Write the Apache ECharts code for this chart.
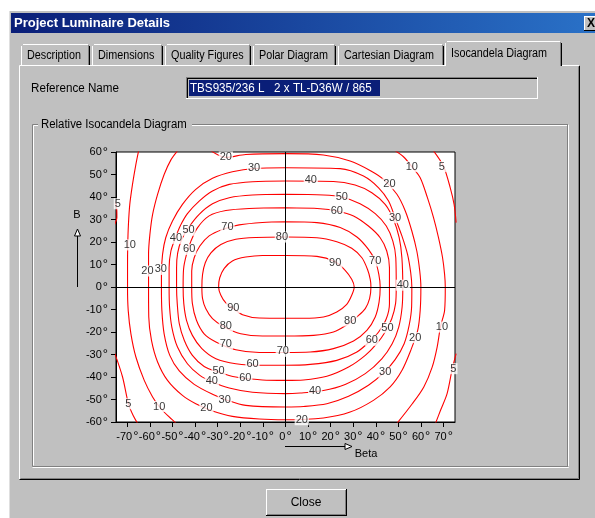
<!DOCTYPE html>
<html><head><meta charset="utf-8">
<script src="https://cdn.jsdelivr.net/npm/echarts@6/dist/echarts.min.js"></script>
<style>html,body{margin:0;padding:0;background:#fff}#c{width:595px;height:518px}</style>
</head><body><div id="c"></div>
<script>
// ---- axis ticks ----
const xTicks = [-70,-60,-50,-40,-30,-20,-10,0,10,20,30,40,50,60,70];
const yTicks = [-60,-50,-40,-30,-20,-10,0,10,20,30,40,50,60];

// ---- contour lines (beta, B); each level = list of segments ----
const iso90 = [[[0,14.0],[-10.2,14.0],[-17.6,13.3],[-23.5,11.6],[-27.1,8.3],[-29.1,4.1],[-29.6,0],
  [-28.6,-3.7],[-26.4,-7.1],[-23.0,-9.6],[-19.0,-12.3],[-11.6,-13.8],[0,-13.9],
  [8.0,-13.9],[16.8,-13.3],[22.7,-11.1],[27.1,-7.7],[29.3,-3.7],[30.4,0],
  [29.3,3.4],[26.4,7.4],[22.0,11.2],[13.9,13.6],[0,14.0]]];
const iso80 = [[[0,22.2],[-13.1,22.0],[-22.0,21.2],[-28.6,18.9],[-33.0,15.2],[-35.5,10.8],[-36.7,5.6],[-37.0,0],
  [-36.7,-5.2],[-35.3,-9.6],[-32.3,-14.1],[-27.1,-17.8],[-19.8,-20.8],[-10.2,-21.8],[0,-21.8],
  [12.4,-21.5],[21.2,-20.0],[27.9,-16.3],[31.6,-13.3],[35.3,-9.6],[37.2,-5.2],[37.8,0],
  [37.5,3.4],[36.3,7.8],[33.8,13.0],[29.3,17.2],[22.7,20.1],[13.9,21.9],[0,22.2]]];
const iso70 = [[[0,29.0],[-10.2,28.7],[-20.5,27.6],[-27.9,25.6],[-33.8,22.7],[-37.9,18.2],[-40.4,13.0],[-41.5,7.1],[-41.5,0],
  [-41.2,-7.4],[-39.4,-14.8],[-36.0,-20.8],[-30.8,-24.4],[-22.0,-27.9],[-11.6,-29.1],[0,-29.1],
  [10.9,-28.9],[21.2,-27.4],[30.1,-24.0],[36.0,-19.3],[39.7,-13.3],[41.4,-6.7],[41.9,0],
  [41.3,5.6],[39.7,11.6],[36.7,16.7],[31.6,22.2],[24.2,26.4],[13.9,28.6],[0,29.0]]];
const iso60 = [[[0,35.2],[-16.1,34.9],[-26.4,34.0],[-33.8,31.6],[-38.9,26.4],[-41.8,20.5],[-43.8,14.5],[-45.1,8.0],[-45.3,0],
  [-45.0,-7.4],[-43.8,-14.8],[-41.2,-21.5],[-37.0,-27.4],[-30.8,-31.9],[-22.0,-34.1],[-10.2,-34.8],[0,-34.8],
  [10.9,-34.4],[22.7,-32.6],[31.6,-28.9],[37.8,-23.7],[41.2,-20.0],[44.6,-14.1],[46.0,-7.4],[46.0,0],
  [46.0,8.6],[44.8,16.0],[41.9,21.9],[36.7,27.1],[30.1,31.6],[22.7,33.8],[15.3,34.8],[0,35.2]]];
const iso50 = [[[0,41.2],[-14.6,40.9],[-24.9,39.7],[-32.3,37.0],[-38.2,32.3],[-42.9,26.4],[-45.9,21.2],[-47.7,15.2],[-48.2,8.6],[-48.2,0],
  [-47.9,-7.4],[-47.0,-16.3],[-44.8,-23.7],[-41.2,-30.4],[-36.0,-35.3],[-29.6,-37.8],[-22.0,-40.0],[-10.2,-41.3],[0,-41.5],
  [8.0,-41.3],[18.3,-39.7],[27.9,-35.6],[35.3,-30.4],[40.4,-25.2],[44.1,-20.0],[47.0,-14.1],[48.7,-7.4],[49.0,0],
  [48.8,13.0],[47.5,20.4],[44.6,27.1],[39.7,32.6],[33.0,37.0],[24.9,40.0],[16.8,40.9],[0,41.2]]];
const iso40 = [[[0,47.1],[-14.6,46.8],[-24.9,45.6],[-32.3,42.7],[-38.2,38.2],[-43.4,32.6],[-46.8,26.7],[-48.8,21.6],[-50.7,16.0],[-51.5,8.6],[-51.5,0],
  [-51.3,-8.9],[-50.3,-17.8],[-47.8,-26.7],[-43.4,-34.1],[-37.9,-39.3],[-32.3,-42.2],[-24.9,-44.9],[-14.6,-46.8],[0,-47.4],
  [6.5,-47.1],[16.8,-46.0],[26.4,-43.3],[35.3,-38.5],[42.6,-31.9],[47.2,-25.2],[50.1,-17.8],[51.6,-8.9],[51.9,0],
  [51.5,13.0],[50.3,21.9],[47.8,30.0],[44.1,36.7],[38.2,41.9],[30.8,45.3],[21.2,46.9],[0,47.1]]];
const iso30 = [[[0,53.0],[-13.9,52.7],[-23.5,51.2],[-32.3,48.3],[-39.7,43.4],[-45.6,36.7],[-50.0,29.3],[-53.0,21.9],[-54.4,14.5],[-54.9,5.6],[-54.9,0],
  [-54.7,-10.4],[-53.7,-20.8],[-51.2,-30.4],[-47.0,-37.3],[-40.4,-43.3],[-32.3,-47.7],[-26.4,-50.1],[-17.6,-52.6],[0,-53.3],
  [8.0,-53.1],[18.3,-51.9],[27.9,-48.6],[36.7,-43.7],[43.4,-38.2],[48.5,-32.3],[52.5,-25.2],[54.7,-17.1],[55.8,-8.9],[55.9,0],
  [55.4,6.4],[54.0,14.5],[51.5,22.7],[48.5,30.8],[45.6,38.2],[41.2,44.1],[34.5,49.3],[24.2,52.6],[0,53.0]]];
const iso20 = [[[-47.8,60.5],[-50.7,56.5],[-53.7,50.0],[-56.6,41.2],[-58.8,32.3],[-60.0,23.4],[-60.6,14.5],[-60.6,0],
  [-60.5,-13.3],[-59.3,-23.7],[-56.6,-33.3],[-52.2,-41.5],[-45.6,-48.2],[-39.7,-51.9],[-32.3,-55.1],[-23.5,-57.5],[-11.6,-58.7],[0,-59.0],
  [16.8,-58.2],[28.6,-55.6],[38.9,-50.4],[46.3,-44.4],[51.5,-37.1],[55.4,-28.2],[58.5,-19.3],[59.6,-10.4],[59.9,0],
  [59.4,7.1],[58.1,16.0],[55.9,24.9],[53.0,33.8],[49.3,41.2],[43.4,47.8],[37.8,51.6],[28.6,56.0],[16.8,58.7],[0,59.3],
  [-17.6,58.9],[-26.4,57.6],[-30.0,58.8],[-33.0,60.5]]];
const iso10 = [
  [[-65.0,60.5],[-66.2,54.5],[-67.7,45.6],[-68.9,36.7],[-69.5,27.8],[-69.8,18.9],[-69.9,10.0],[-69.9,0],
   [-69.6,-10.4],[-68.4,-20.8],[-66.2,-31.1],[-62.5,-41.5],[-58.8,-48.9],[-55.9,-53.1],[-52.2,-57.1],[-48.5,-60.5]],
  [[48.5,60.5],[52.2,57.9],[55.9,53.5],[59.6,48.6],[62.8,39.7],[65.5,30.8],[67.7,21.9],[69.5,13.0],[70.4,5.6],[70.7,0],
   [70.4,-10.4],[68.6,-17.5],[67.1,-26.7],[64.9,-35.6],[61.2,-44.4],[56.1,-51.9],[49.4,-60.5]]];
const iso5 = [
  [[-76.0,39.0],[-74.7,35.0],[-74.6,31.0],[-76.0,27.0]],
  [[65.5,60.5],[69.9,53.7],[72.9,44.1],[74.6,36.7],[75.5,28.6]],
  [[75.5,-29.6],[73.8,-36.3],[71.5,-47.4],[68.6,-54.8],[66.4,-60.5]],
  [[-75.5,-29.6],[-72.1,-40.0],[-69.5,-51.9],[-67.4,-57.1],[-65.5,-60.5]]];

// ---- contour labels: [text, beta, B] ----
const isoLabels = [
  ['5',-74.2,37.0],['10',-68.9,18.7],['20',-61.1,7.1],['30',-55.2,7.8],['40',-48.5,21.6],['50',-42.9,25.2],
  ['60',-42.6,16.7],['70',-25.7,26.7],['80',-1.6,22.2],['20',-26.4,57.8],['30',-13.9,53.0],
  ['40',11.2,47.6],['50',24.9,40.0],['60',22.7,33.8],['20',46.0,45.9],['30',48.5,30.8],['10',55.9,53.5],
  ['5',69.2,53.5],['70',39.7,11.6],['90',22.0,10.8],['40',51.9,0.8],
  ['80',28.6,-15.1],['50',45.1,-18.1],['60',38.2,-23.7],['20',57.4,-22.5],['10',69.2,-17.8],['30',44.1,-37.8],
  ['40',13.1,-46.2],['20',7.2,-59.0],['5',74.3,-36.3],['70',-1.2,-28.6],
  ['90',-23.1,-9.2],['80',-26.4,-17.5],['70',-26.4,-25.5],['60',-14.6,-34.4],['50',-29.6,-37.5],['60',-17.8,-40.4],
  ['40',-32.6,-41.8],['30',-26.9,-50.1],['20',-35.0,-53.8],['10',-55.9,-53.1],['5',-69.5,-51.9]];

const tabNames = ['Description','Dimensions','Quality Figures','Polar Diagram','Cartesian Diagram','Isocandela Diagram'];
const titleText = 'Project Luminaire Details';
const refName = 'TBS935/236 L   2 x TL-D36W / 865';

// ---------------------------------------------------------------
const FONT = '"Liberation Sans", Arial, sans-serif';
const GRAY = '#c0c0c0', DARK = '#808080';
const G = [];
function rect(x,y,w,h,fill,z){G.push({type:'rect',silent:true,z:z??-10,shape:{x,y,width:w,height:h},style:{fill}});}
function ln(x1,y1,x2,y2,stroke,z){G.push({type:'line',silent:true,z:z??-9,shape:{x1,y1,x2,y2},style:{stroke,lineWidth:1}});}
function txt(x,y,text,o,sx){G.push({type:'text',silent:true,z:(o&&o.z)??-8,x,y,scaleX:sx??1,style:Object.assign({text,fill:'#000',fontSize:12,fontFamily:FONT,align:'left',verticalAlign:'middle'},o||{})});}

// window
rect(9,11,600,520,GRAY);
ln(9.5,11,9.5,518,'#dfdfdf');
// title bar
G.push({type:'rect',silent:true,z:-9,shape:{x:11,y:13,width:590,height:20},
  style:{fill:new echarts.graphic.LinearGradient(0,0,1,0,[{offset:0,color:'#0a1e78'},{offset:1,color:'#2a72c8'}])}});
txt(14,23.5,titleText,{fill:'#fff',fontWeight:'bold',fontSize:13});
rect(584,16,16,15,GRAY,-8);
ln(584.5,16,584.5,31,'#fff',-7);ln(584,16.5,600,16.5,'#fff',-7);ln(584,30.5,600,30.5,'#000',-7);
txt(587,23.5,'X',{fontWeight:'bold',fontSize:12,z:-6});

// panel
const PX0=19.5, PX1=579.5, PY0=65.5, PY1=479.5;
ln(PX0,PY0,PX0,PY1,'#fff');
ln(PX1,PY0,PX1,PY1,'#000');ln(PX1-1,PY0+1,PX1-1,PY1-1,DARK);
ln(PX0,PY1,PX1,PY1,'#000');ln(PX0+1,PY1-1,PX1-1,PY1-1,DARK);
// tabs
const tabX = [20,91,164,252,337,445,562];
for(let i=0;i<6;i++){
  const sel = i===5;
  const x0 = tabX[i]+(sel?0:1), x1 = tabX[i+1]-(sel?0:1);
  const y0 = sel?41:44;
  rect(x0,y0,x1-x0,66-y0,GRAY,-9);
  ln(x0+0.5,y0+2,x0+0.5,66,'#fff',-8);
  ln(x0+2,y0+0.5,x1-2,y0+0.5,'#fff',-8);
  ln(x1-0.5,y0+2,x1-0.5,sel?66:65,'#000',-8);
  ln(x1-1.5,y0+1,x1-1.5,sel?66:65,DARK,-8);
  txt(x0+6,sel?53.5:56,tabNames[i],{z:-7},0.9);
}
ln(PX0,PY0,446,PY0,'#fff',-7);
ln(562,PY0,PX1,PY0,'#fff',-7);

// reference name
txt(31,88.5,'Reference Name',null,0.97);
rect(186,77,352,22,GRAY,-8);
ln(186,77.5,538,77.5,DARK,-7);ln(186.5,77,186.5,99,DARK,-7);
ln(187,78.5,537,78.5,'#000',-7);ln(187.5,78,187.5,98,'#000',-7);
ln(186,98.5,538,98.5,'#fff',-7);ln(537.5,77,537.5,99,'#fff',-7);
rect(189,80,191,16,'#0a1e78',-6);
txt(190,88.5,refName,{fill:'#fff',z:-5},0.97);

// group box
ln(32.5,124.5,32.5,466.5,DARK);ln(33.5,125.5,33.5,465.5,'#fff');
ln(32.5,124.5,568.5,124.5,DARK);ln(33.5,125.5,567.5,125.5,'#fff');
ln(567.5,124.5,567.5,466.5,DARK);ln(568.5,124.5,568.5,467.5,'#fff');
ln(32.5,466.5,568.5,466.5,DARK);ln(32.5,467.5,568.5,467.5,'#fff');
rect(38,118,154,12,GRAY,-7);
txt(41,124.5,'Relative Isocandela Diagram',{z:-6},0.95);

// B axis arrow
txt(77,215,'B',{align:'center',fontSize:11});
ln(77.5,287,77.5,236,'#000');
G.push({type:'polygon',silent:true,z:-8,shape:{points:[[77.5,229],[74.5,236],[80.5,236]]},style:{fill:'#fff',stroke:'#000',lineWidth:1}});
// Beta arrow
txt(366,454,'Beta',{align:'center',fontSize:11});
ln(285,446.5,345,446.5,'#000');
G.push({type:'polygon',silent:true,z:-8,shape:{points:[[352,446.5],[345,443.5],[345,449.5]]},style:{fill:'#fff',stroke:'#000',lineWidth:1}});

// close button
rect(266,489,81,27,GRAY,-8);
ln(266.5,489,266.5,516,'#fff',-7);ln(266,489.5,347,489.5,'#fff',-7);
ln(346.5,489,346.5,516,'#000',-7);ln(266,515.5,347,515.5,'#000',-7);
ln(345.5,490,345.5,515,DARK,-7);ln(267,514.5,346,514.5,DARK,-7);
txt(306,503,'Close',{align:'center',z:-6});

// ---------------------------------------------------------------
const degFmt = v => `{n|${v}}{d|°}`;
const rich = {n:{fontSize:11,fontFamily:FONT,color:'#000'},
              d:{fontSize:13,fontFamily:FONT,color:'#000',padding:[0,0,0,1]}};

const series = [];
const levels = [['5',iso5],['10',iso10],['20',iso20],['30',iso30],['40',iso40],['50',iso50],['60',iso60],['70',iso70],['80',iso80],['90',iso90]];
levels.forEach(([name,segs])=>segs.forEach(seg=>series.push({
  type:'line',name,data:seg,symbol:'none',showSymbol:false,smooth:0.3,clip:true,silent:true,z:3,
  lineStyle:{color:'#ff0000',width:1.1}})));
series.push({type:'line',data:[],symbol:'none',silent:true,z:2,
  markLine:{silent:true,symbol:'none',animation:false,label:{show:false},
    lineStyle:{color:'#000',width:1,type:'solid'},data:[{xAxis:0},{yAxis:0}]}});
series.push({type:'scatter',z:10,symbol:'circle',symbolSize:2,itemStyle:{color:'rgba(255,255,255,0)'},silent:true,
  data:isoLabels.map(l=>({name:l[0],value:[l[1],l[2]]})),
  label:{show:true,position:'inside',formatter:p=>p.name,color:'#000',fontSize:11,fontFamily:FONT,
    backgroundColor:'#fff',padding:[0,1,0,1],lineHeight:11},
  labelLayout:{hideOverlap:false}});

const chart = echarts.init(document.getElementById('c'),null,{renderer:'canvas'});
chart.setOption({
  animation:false,
  backgroundColor:'#fff',
  graphic:G,
  grid:{left:116,top:152,width:339,height:270,show:true,backgroundColor:'#fff',borderColor:'#000',borderWidth:1,containLabel:false},
  xAxis:{type:'value',min:-75,max:75,
    axisLine:{show:true,onZero:false,lineStyle:{color:'#000',width:1}},
    axisTick:{show:true,customValues:xTicks,length:5,lineStyle:{color:'#000'}},
    axisLabel:{customValues:xTicks,formatter:degFmt,rich,margin:8,hideOverlap:false,showMinLabel:true,showMaxLabel:true},
    splitLine:{show:false}},
  yAxis:{type:'value',min:-60,max:60,interval:10,
    axisLine:{show:true,onZero:false,lineStyle:{color:'#000',width:1}},
    axisTick:{show:true,length:5,lineStyle:{color:'#000'}},
    axisLabel:{formatter:degFmt,rich,margin:8,hideOverlap:false,showMinLabel:true,showMaxLabel:true},
    splitLine:{show:false}},
  series
});
</script></body></html>
